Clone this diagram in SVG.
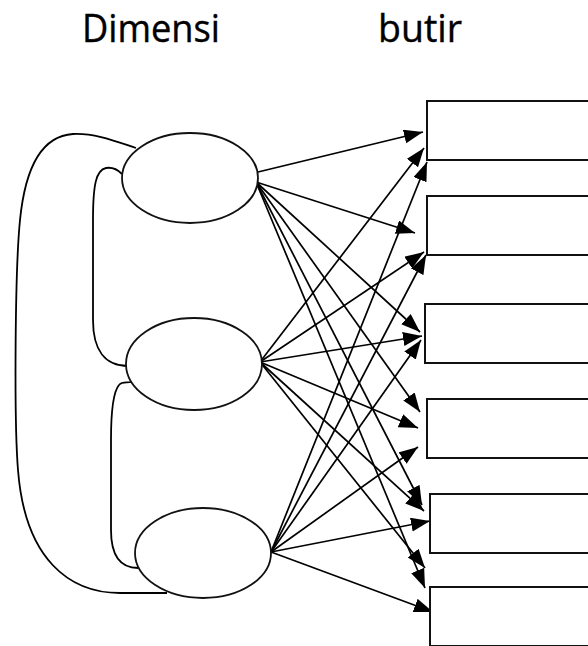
<svg xmlns="http://www.w3.org/2000/svg" width="588" height="646" viewBox="0 0 588 646">
  <style>
    .label { font-family: "Open Sans", "DejaVu Sans", sans-serif; font-size: 38px; fill: #000; stroke: #000; stroke-width: 0.4; }
    .dim { fill: #fff; stroke: #111; stroke-width: 1.8; }
    .item { fill: #fff; stroke: #111; stroke-width: 2; }
    .link { fill: none; stroke: #000; stroke-width: 1.8; }
    .arrow { fill: none; stroke: #000; stroke-width: 1.7; marker-end: url(#head); }
  </style>
  <defs>
    <marker id="head" markerUnits="userSpaceOnUse" markerWidth="20" markerHeight="15" refX="19" refY="7" orient="auto">
      <path d="M0,0 L19,7 L0,14 z" fill="#000"/>
    </marker>
  </defs>

  <rect width="588" height="646" fill="#fff"/>

  <text class="label" x="82" y="42" textLength="138" lengthAdjust="spacingAndGlyphs">Dimensi</text>
  <text class="label" x="378" y="42" textLength="84" lengthAdjust="spacingAndGlyphs">butir</text>

  <!-- correlation curves between dimensions -->
  <g id="connectors">
    <path class="link" d="M136,148 C115,141 95,133 73,134 C40,136 25,170 20,220 C15,270 14,420 18,470 C25,560 70,593 120,593 L167,593"/>
    <path class="link" d="M122,174 C118,170 112,167 106,168 C96,170 93,185 93,220 L93,320 C93,350 105,366 128,366"/>
    <path class="link" d="M131,382 C127,383 122,381 119,385 C113,392 111,410 111,440 L111,530 C111,555 120,568 138,568"/>

    <!-- dimension 1 to items -->
    <line class="arrow" x1="258" y1="172" x2="423" y2="132"/>
    <line class="arrow" x1="256" y1="182" x2="415" y2="233"/>
    <line class="arrow" x1="256" y1="182" x2="420" y2="332"/>
    <line class="arrow" x1="256" y1="182" x2="420" y2="412"/>
    <line class="arrow" x1="256" y1="182" x2="422" y2="505"/>
    <line class="arrow" x1="256" y1="182" x2="425" y2="588"/>

    <!-- dimension 2 to items -->
    <line class="arrow" x1="260" y1="362" x2="424" y2="148"/>
    <line class="arrow" x1="260" y1="362" x2="424" y2="252"/>
    <line class="arrow" x1="260" y1="362" x2="422" y2="336"/>
    <line class="arrow" x1="260" y1="362" x2="418" y2="428"/>
    <line class="arrow" x1="260" y1="362" x2="424" y2="511"/>
    <line class="arrow" x1="260" y1="362" x2="425" y2="568"/>

    <!-- dimension 3 to items -->
    <line class="arrow" x1="271" y1="552" x2="427" y2="162"/>
    <line class="arrow" x1="271" y1="552" x2="426" y2="255"/>
    <line class="arrow" x1="271" y1="552" x2="421" y2="340"/>
    <line class="arrow" x1="271" y1="552" x2="418" y2="447"/>
    <line class="arrow" x1="271" y1="552" x2="430" y2="521"/>
    <line class="arrow" x1="271" y1="552" x2="433" y2="612"/>
  </g>

  <g id="dimension-1"><ellipse class="dim" cx="190" cy="178" rx="68" ry="45"/></g>
  <g id="dimension-2"><ellipse class="dim" cx="194" cy="364" rx="68" ry="46"/></g>
  <g id="dimension-3"><ellipse class="dim" cx="203" cy="553" rx="68" ry="45"/></g>

  <g id="item-1"><rect class="item" x="427" y="101" width="170" height="59"/></g>
  <g id="item-2"><rect class="item" x="427" y="196" width="170" height="59"/></g>
  <g id="item-3"><rect class="item" x="425" y="304" width="170" height="59"/></g>
  <g id="item-4"><rect class="item" x="427" y="399" width="170" height="59"/></g>
  <g id="item-5"><rect class="item" x="430" y="494" width="170" height="59"/></g>
  <g id="item-6"><rect class="item" x="430" y="587" width="170" height="59"/></g>
</svg>
